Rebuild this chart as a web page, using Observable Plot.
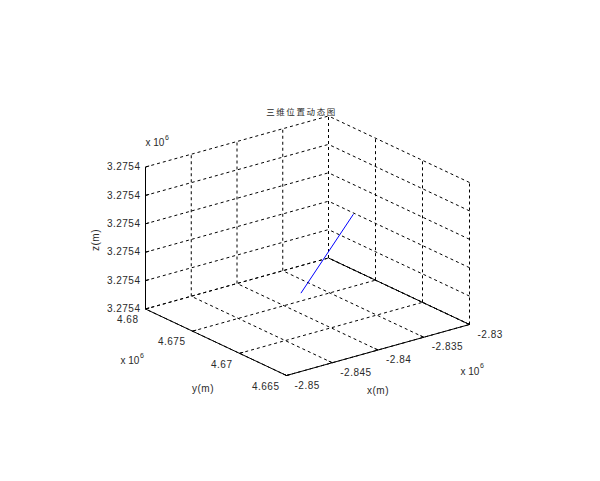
<!DOCTYPE html>
<html><head><meta charset="utf-8">
<script src="https://cdn.jsdelivr.net/npm/d3@7"></script>
<script src="https://cdn.jsdelivr.net/npm/@observablehq/plot@0.6"></script>
<style>
body{margin:0;background:#fff;overflow:hidden}
.lab text{letter-spacing:0.5px}
.ttl text{letter-spacing:1.6px}
</style>
</head><body><div id="chart"></div>
<script>
// ---- data (x, y, z in units of 10^6 m) ----
const titleText = "三维位置动态图";
const xLabel = "x(m)", yLabel = "y(m)", zLabel = "z(m)";
const xTicks = [-2.85, -2.845, -2.84, -2.835, -2.83];
const xTickLabels = ["-2.85", "-2.845", "-2.84", "-2.835", "-2.83"];
const yTicks = [4.665, 4.67, 4.675, 4.68];
const yTickLabels = ["4.665", "4.67", "4.675", "4.68"];
const zTicks = [3.2754000, 3.2754002, 3.2754004, 3.2754006, 3.2754008, 3.2754010];
const zTickLabels = ["3.2754", "3.2754", "3.2754", "3.2754", "3.2754", "3.2754"];
const exponentBase = "x 10", exponentPower = "6";
const trackX = [-2.83902, -2.83438];
const trackY = [4.67413, 4.67311];
const trackZ = [3.2754001, 3.2754006];

// ---- view (orthographic projection of the unit box) ----
const origin = [286, 375];
const eu = [183, -51], ev = [-141, -66.5], ew = [0, -142];
const [x0, x1] = [xTicks[0], xTicks[xTicks.length - 1]];
const [y0, y1] = [yTicks[0], yTicks[yTicks.length - 1]];
const [z0, z1] = [zTicks[0], zTicks[zTicks.length - 1]];
function proj(x, y, z) {
  const u = (x - x0) / (x1 - x0), v = (y - y0) / (y1 - y0), w = (z - z0) / (z1 - z0);
  return [origin[0] + u * eu[0] + v * ev[0] + w * ew[0],
          origin[1] + u * eu[1] + v * ev[1] + w * ew[1]];
}
function seg(a, b) { const p = proj(...a), q = proj(...b); return {x1: p[0], y1: p[1], x2: q[0], y2: q[1]}; }

const dashed = [];
xTicks.slice(1).forEach(xt => dashed.push(seg([xt, y1, z0], [xt, y1, z1])));
zTicks.forEach(zt => dashed.push(seg([x0, y1, zt], [x1, y1, zt])));
yTicks.slice(0, -1).forEach(yt => dashed.push(seg([x1, yt, z0], [x1, yt, z1])));
zTicks.forEach(zt => dashed.push(seg([x1, y0, zt], [x1, y1, zt])));
xTicks.forEach(xt => dashed.push(seg([xt, y0, z0], [xt, y1, z0])));
yTicks.forEach(yt => dashed.push(seg([x0, yt, z0], [x1, yt, z0])));

const solid = [
  seg([x0, y1, z0], [x0, y1, z1]),
  seg([x0, y0, z0], [x0, y1, z0]),
  seg([x0, y0, z0], [x1, y0, z0]),
  seg([x1, y0, z0], [x1, y1, z0])
];
const du = (x1 - x0) * 0.02, dv = (y1 - y0) * 0.025;
zTicks.forEach(zt => solid.push(seg([x0, y1, zt], [x0 + du, y1, zt])));
yTicks.forEach(yt => solid.push(seg([x0, yt, z0], [x0 + du, yt, z0])));
xTicks.forEach(xt => solid.push(seg([xt, y0, z0], [xt, y0 + dv, z0])));

const zLab = zTicks.map((t, i) => { const p = proj(x0, y1, t); return {x: p[0], y: p[1], t: zTickLabels[i]}; });
const yLab = yTicks.map((t, i) => { const p = proj(x0, t, z0); return {x: p[0], y: p[1], t: yTickLabels[i]}; });
const xLab = xTicks.map((t, i) => { const p = proj(t, y0, z0); return {x: p[0], y: p[1], t: xTickLabels[i]}; });
const track = trackX.map((x, i) => { const p = proj(x, trackY[i], trackZ[i]); return {x: p[0], y: p[1]}; });

const zTop = proj(x0, y1, z1), yCorner = proj(x0, y1, z0), xCorner = proj(x1, y0, z0);
const zMid = proj(x0, y1, (z0 + z1) / 2), yMid = proj(x0, (y0 + y1) / 2, z0), xMid = proj((x0 + x1) / 2, y0, z0);
const pt = p => [{x: p[0], y: p[1]}];
const ink = "#2a2a2a";
const L = {fill: ink, className: "lab"};

const chart = Plot.plot({
  width: 600, height: 481, margin: 0,
  x: {type: "linear", domain: [0, 600], range: [0, 600], axis: null},
  y: {type: "linear", domain: [0, 481], range: [0, 481], axis: null},
  style: {fontFamily: "'Liberation Sans', Arial, sans-serif", fontSize: "10px", background: "#fff", color: ink},
  marks: [
    Plot.link(dashed, {x1: "x1", y1: "y1", x2: "x2", y2: "y2", stroke: "#000", strokeWidth: 1, strokeDasharray: "3,3"}),
    Plot.link(solid, {x1: "x1", y1: "y1", x2: "x2", y2: "y2", stroke: "#000", strokeWidth: 1}),
    Plot.line(track, {x: "x", y: "y", stroke: "#0000ff", strokeWidth: 1}),
    Plot.text(zLab, {x: "x", y: "y", text: "t", textAnchor: "end", dx: -5, ...L}),
    Plot.text(yLab, {x: "x", y: "y", text: "t", textAnchor: "end", dx: -7, dy: 11, ...L}),
    Plot.text(xLab, {x: "x", y: "y", text: "t", textAnchor: "start", dx: 8, dy: 10, ...L}),
    Plot.text(pt(zTop), {x: "x", y: "y", text: () => exponentBase, textAnchor: "start", dx: 0, dy: -24, fill: ink}),
    Plot.text(pt(zTop), {x: "x", y: "y", text: () => exponentPower, textAnchor: "start", dx: 19.5, dy: -29.5, fontSize: 7, fill: ink}),
    Plot.text(pt(yCorner), {x: "x", y: "y", text: () => exponentBase, textAnchor: "start", dx: -25, dy: 52, fill: ink}),
    Plot.text(pt(yCorner), {x: "x", y: "y", text: () => exponentPower, textAnchor: "start", dx: -5.5, dy: 46.5, fontSize: 7, fill: ink}),
    Plot.text(pt(xCorner), {x: "x", y: "y", text: () => exponentBase, textAnchor: "start", dx: -9, dy: 47, fill: ink}),
    Plot.text(pt(xCorner), {x: "x", y: "y", text: () => exponentPower, textAnchor: "start", dx: 10.5, dy: 41.5, fontSize: 7, fill: ink}),
    Plot.text(pt(zMid), {x: "x", y: "y", text: () => zLabel, rotate: -90, dx: -50, dy: 2, ...L}),
    Plot.text(pt(yMid), {x: "x", y: "y", text: () => yLabel, dx: -13, dy: 47, ...L}),
    Plot.text(pt(xMid), {x: "x", y: "y", text: () => xLabel, dx: 0, dy: 41, ...L}),
    Plot.text([titleText], {frameAnchor: "top", dy: 108, dx: 1, text: d => d, fontFamily: "'Noto Sans CJK SC', sans-serif", fontSize: 8.5, fill: ink, className: "ttl"})
  ]
});
document.getElementById("chart").appendChild(chart);
</script>
</body></html>
